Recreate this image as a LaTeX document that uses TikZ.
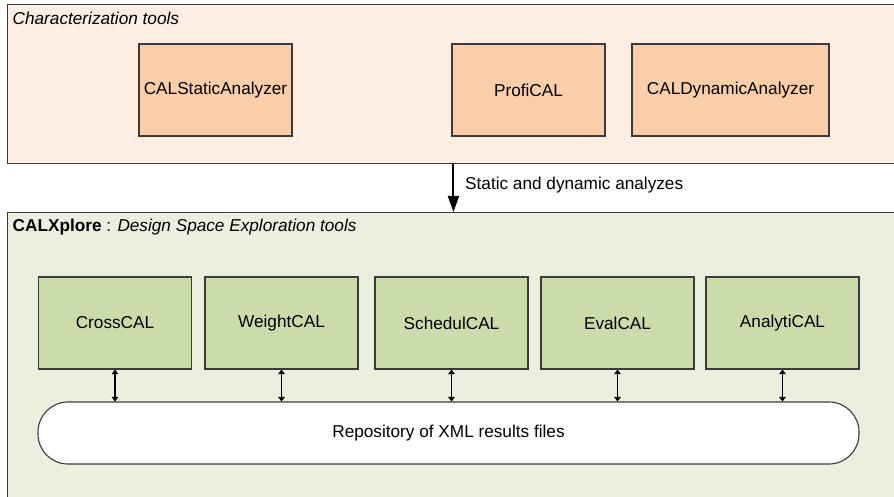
\documentclass[tikz,border=0pt]{standalone}
\usepackage{fontspec}
\setmainfont{Liberation Sans}
\usetikzlibrary{arrows.meta}
\definecolor{charfill}{HTML}{FDEEE3}
\definecolor{toolfill}{HTML}{FACEA8}
\definecolor{dsefill}{HTML}{EBEFDE}
\definecolor{dsebox}{HTML}{CCDBAA}
\definecolor{edge}{HTML}{3A3A3A}
\tikzset{
  container/.style={draw=edge, line width=1.1pt, inner sep=0pt, anchor=north west},
  toolbox/.style={draw=edge, line width=1.1pt, fill=toolfill, minimum height=92pt, inner sep=0pt, font=\txt},
  dsetool/.style={draw=edge, line width=1.1pt, fill=dsebox, minimum width=153pt, minimum height=92pt, inner sep=0pt, font=\txt},
  repo/.style={draw=edge, line width=1.1pt, fill=white, rounded corners=30pt, minimum width=821pt, minimum height=62pt, inner sep=0pt, font=\txt},
  bigarrow/.style={line width=2pt, -{Triangle[length=16pt,width=11pt]}},
  dblarrow/.style={line width=1.4pt, {Triangle[length=4.5pt,width=6.5pt]}-{Triangle[length=4.5pt,width=6.5pt]}},
  caption/.style={anchor=west, inner sep=0pt, font=\txt}
}
\newcommand{\txt}{\fontsize{17.2}{20}\selectfont}
\begin{document}
\begin{tikzpicture}[x=1pt, y=-1pt]
\clip (0,0) rectangle (894,497);
\fill[white] (0,0) rectangle (894,497);

% Characterization tools area
\node[container, fill=charfill, minimum width=930pt, minimum height=159pt] (charbox) at (7,4) {};
\node[caption] (chartitle) at (12.5,18) {\itshape Characterization tools};
\node[toolbox, minimum width=153pt] (static) at (215.5,90) {CALStaticAnalyzer};
\node[toolbox, minimum width=153pt] (profi) at (528.5,90) {ProfiCAL};
\node[toolbox, minimum width=197pt] (dynamic) at (730.5,90) {CALDynamicAnalyzer};

% Design space exploration area
\node[container, fill=dsefill, minimum width=930pt, minimum height=320pt] (dse) at (7,212) {};
\node[caption] (dsetitle) at (12.5,227) {\textbf{CALXplore} : \textit{Design Space Exploration tools}};

\node[dsetool] (cross)  at (115,323)   {CrossCAL};
\node[dsetool] (weight) at (281.5,323) {WeightCAL};
\node[dsetool] (sched)  at (451.5,323) {SchedulCAL};
\node[dsetool] (eval)   at (617.5,323) {EvalCAL};
\node[dsetool] (analy)  at (782.5,323) {AnalytiCAL};

\node[repo] (xmlrepo) at (448.5,433) {Repository of XML results files};

% Flow between the two areas
\coordinate (flowtop) at ([xshift=2pt]charbox.south -| profi.west);
\coordinate (flowbot) at (flowtop |- dse.north);
\draw[bigarrow] (flowtop) -- (flowbot);
\node[caption] (flowlabel) at (465,185) {Static and dynamic analyzes};

% Tool <-> repository exchanges
\foreach \t in {cross,weight,sched,eval,analy}
  \draw[dblarrow] (\t.south) -- (\t.south |- xmlrepo.north);
\end{tikzpicture}
\end{document}
